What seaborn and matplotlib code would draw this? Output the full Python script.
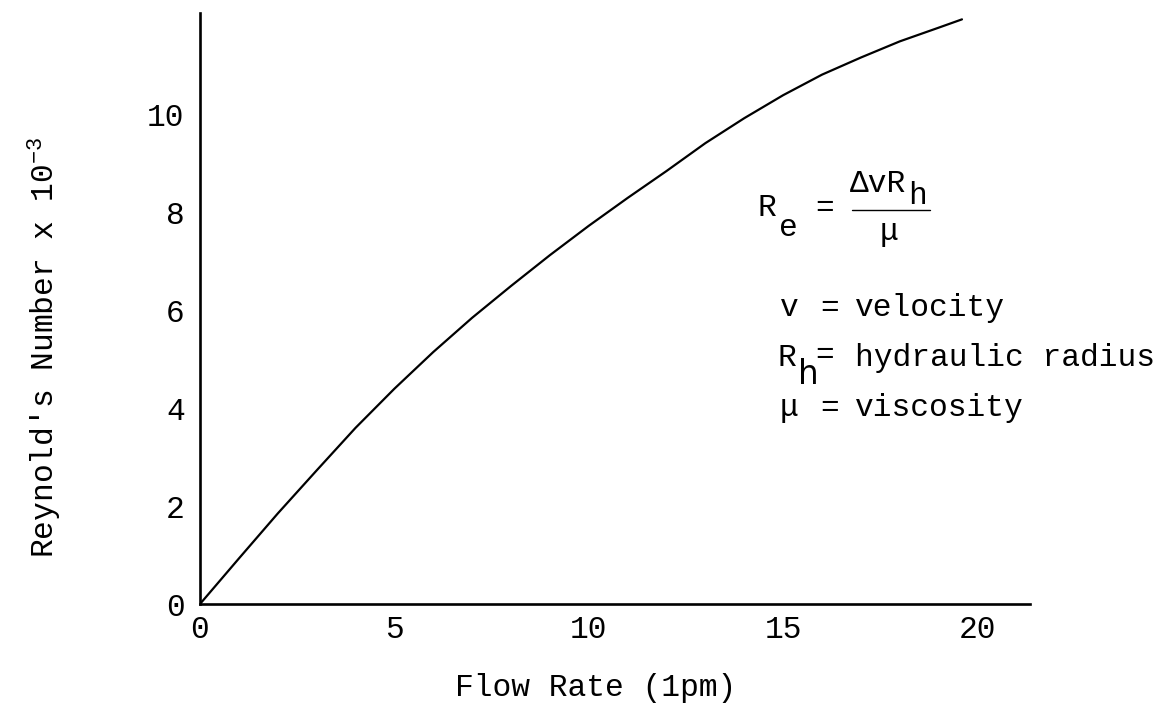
import matplotlib
matplotlib.use("Agg")
import matplotlib.pyplot as plt
import seaborn as sns
import pandas as pd

# Reynold's number versus flow rate
flow_lpm = [0, 1, 2, 3, 4, 5, 6, 7, 8, 9, 10, 11, 12, 13, 14, 15, 16, 17, 18, 19, 19.6]
reynolds_e3 = [0, 0.93, 1.85, 2.73, 3.6, 4.4, 5.15, 5.85, 6.5, 7.13, 7.73, 8.3,
               8.85, 9.42, 9.93, 10.4, 10.82, 11.17, 11.5, 11.78, 11.95]

x_ticks = [0, 5, 10, 15, 20]
x_tick_labels = ["0", "5", "10", "15", "20"]
y_ticks = [0, 2, 4, 6, 8, 10]
y_tick_labels = ["0", "2", "4", "6", "8", "10"]

sns.set_theme(style="white")
FONT = "Liberation Mono"
plt.rcParams["font.family"] = [FONT, "DejaVu Sans"]
plt.rcParams["mathtext.fontset"] = "custom"
plt.rcParams["mathtext.rm"] = FONT
plt.rcParams["mathtext.it"] = FONT

W, H = 1166, 711
fig = plt.figure(figsize=(W / 100, H / 100), dpi=100)
fig.patch.set_facecolor("white")

left, right, top, bottom = 200, 1030, 13, 604
ax = fig.add_axes([left / W, 1 - bottom / H, (right - left) / W, (bottom - top) / H])
ax.set_facecolor("white")

df = pd.DataFrame({"flow": flow_lpm, "re": reynolds_e3})
sns.lineplot(data=df, x="flow", y="re", color="black", linewidth=1.6, ax=ax)

ax.set_xlim(0, 21.35)
ax.set_ylim(0, 12.08)

for side in ("top", "right"):
    ax.spines[side].set_visible(False)
for side in ("left", "bottom"):
    ax.spines[side].set_color("black")
    ax.spines[side].set_linewidth(1.9)

fs = 22.5
ax.set_xticks(x_ticks)
ax.set_xticklabels(x_tick_labels, fontsize=fs)
ax.set_yticks(y_ticks)
ax.set_yticklabels(y_tick_labels, fontsize=fs)
ax.tick_params(axis="both", direction="out", length=4, width=1.0, color="black",
               colors="black")
ax.tick_params(axis="x", pad=4)
ax.tick_params(axis="y", pad=7)

ph = bottom - top
pw = right - left
ax.set_xlabel("Flow Rate (1pm)", fontsize=fs, color="black", va="center")
ax.xaxis.set_label_coords((596 - left) / pw, -(688 - bottom) / ph)
ax.set_ylabel("Reynold's Number x 10$^{-3}$", fontsize=fs, color="black", va="center")
ax.yaxis.set_label_coords((45 - left) / pw, (bottom - 347) / ph)
ax.grid(False)


def put(x, y, s, size=fs, **kw):
    fig.text(x / W, 1 - y / H, s, fontsize=size, color="black",
             ha="left", va="center", **kw)


# Definition of the Reynolds number
put(757, 208, "R")
put(779, 228, "e")
put(815, 208, "=")
put(850, 184, "\u0394vR")
put(908, 196, "h")
fig.add_artist(plt.Line2D([852 / W, 930 / W], [1 - 210 / H, 1 - 210 / H],
                          color="black", linewidth=1.0))
put(880, 232, "\u03bc")

put(780, 308, "v")
put(820, 308, "=")
put(855, 308, "velocity")

put(778, 358, "R")
put(798, 375, "h", family=["DejaVu Sans"], size=fs + 1)
put(815, 355, "=")
put(855, 358, "hydraulic radius")

put(780, 408, "\u03bc")
put(820, 408, "=")
put(855, 408, "viscosity")

fig.savefig("out.png", dpi=100, facecolor="white")
